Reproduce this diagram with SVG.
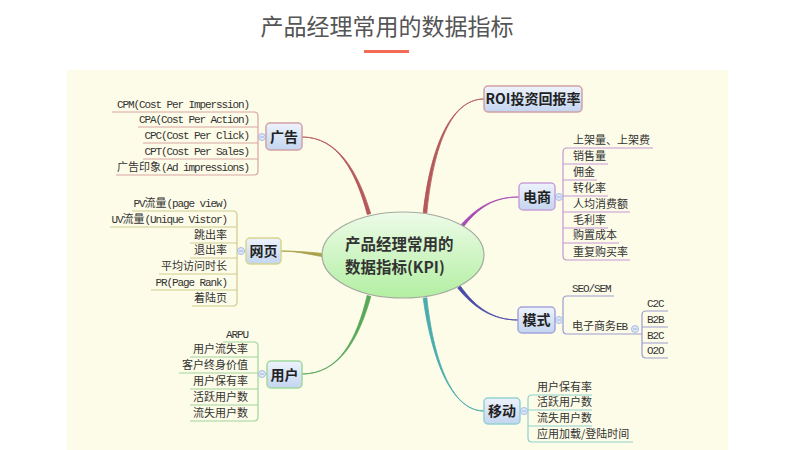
<svg xmlns="http://www.w3.org/2000/svg" width="799" height="450" viewBox="0 0 799 450">
<defs>
<linearGradient id="ng" x1="0" y1="0" x2="0" y2="1"><stop offset="0" stop-color="#eef3fc"/><stop offset="1" stop-color="#c3d5f0"/></linearGradient>
<linearGradient id="cg" x1="0" y1="0" x2="0" y2="1"><stop offset="0" stop-color="#eefbe8"/><stop offset="1" stop-color="#b2efa2"/></linearGradient>
<style>
.lf{font-family:"Noto Sans CJK SC","Liberation Sans",sans-serif;font-size:11px;fill:#333}
.m{font-family:"Liberation Mono",monospace;letter-spacing:-1.1px}
.e{text-anchor:end}
.nt{font-family:"Noto Sans CJK SC","Liberation Sans",sans-serif;font-weight:bold;font-size:14px;fill:#222;text-anchor:middle}
.ct{font-family:"Noto Sans CJK SC","Liberation Sans",sans-serif;font-weight:bold;font-size:15.5px;fill:#333}
.nb{fill:url(#ng);stroke-width:1.5}
.ln{fill:none;stroke-width:1.2}
.dot{fill:#dfe8f8;stroke:#a9bde2;stroke-width:1}
.dm{stroke:#8ea6d6;stroke-width:0.8}
</style>
</defs>
<rect x="0" y="0" width="799" height="450" fill="#ffffff"/>
<text x="387" y="35" text-anchor="middle" font-family="Noto Sans CJK SC, Liberation Sans, sans-serif" font-size="23" fill="#555">产品经理常用的数据指标</text>
<rect x="364" y="50" width="45" height="3" fill="#f26c55"/>
<rect x="67" y="70" width="661" height="380" fill="#fdfce8"/>

<g id="connectors">
<path d="M370.7,213.5 C357.8,171.5 338,137 302,137 C338,137 356.2,172.5 367.3,214.5 Z" fill="#b5585a" stroke="#b5585a" stroke-width="0.8"/>
<path d="M426.8,213.2 C432.5,155 448,99 484,99 C448,99 429.5,155 423.2,212.8 Z" fill="#b5585a" stroke="#b5585a" stroke-width="0.8"/>
<path d="M463.2,227 C478.6,207.5 494,197 519,197 C494,197 477.4,206.5 460.8,225 Z" fill="#a64cb4" stroke="#a64cb4" stroke-width="0.8"/>
<path d="M457.7,288 C474.4,308.5 493,320 518,320 C493,320 475.6,307.5 460.3,286 Z" fill="#4a4aa8" stroke="#4a4aa8" stroke-width="0.8"/>
<path d="M423.2,298.2 C431,355 450,411 484,411 C450,411 433,355 426.8,297.8 Z" fill="#4aacac" stroke="#4aacac" stroke-width="0.8"/>
<path d="M370.8,296.5 C359,338.2 340,374 302,374 C340,374 357,337.8 367.2,295.5 Z" fill="#58a858" stroke="#58a858" stroke-width="0.8"/>
<path d="M322,256.6 C308,254 295,251 281,251 C295,251 308,252 322,253.4 Z" fill="#a8a048" stroke="#a8a048" stroke-width="0.8"/>
</g>

<g id="center">
<ellipse cx="403" cy="255" rx="81" ry="43" fill="url(#cg)" stroke="#a3aa9f" stroke-width="1.2"/>
<text class="ct" x="345" y="250">产品经理常用的</text>
<text class="ct" x="345" y="273">数据指标(KPI)</text>
</g>

<g id="node-roi">
<rect class="nb" x="484" y="86" width="98" height="26" rx="4" stroke="#d2a0a6"/>
<text class="nt" x="533" y="104">ROI投资回报率</text>
</g>

<g id="node-guanggao">
<path class="ln" stroke="#d9a3a3" d="M112,112 H254 Q258,112 258,116 V171 Q258,175 254,175 H116 M138,127 H258 M143,143 H258 M143,159 H258 M258,137 H266"/>
<circle class="dot" cx="262" cy="137" r="3.5"/><path class="dm" d="M260,137 H264"/>
<rect class="nb" x="266" y="123" width="36" height="27" rx="4" stroke="#d2a0a6"/>
<text class="nt" x="284" y="141.5">广告</text>
<text class="lf e" x="249" y="108"><tspan class="m">CPM(Cost Per Imperssion)</tspan></text>
<text class="lf e" x="249" y="123"><tspan class="m">CPA(Cost Per Action)</tspan></text>
<text class="lf e" x="249" y="139"><tspan class="m">CPC(Cost Per Click)</tspan></text>
<text class="lf e" x="249" y="155"><tspan class="m">CPT(Cost Per Sales)</tspan></text>
<text class="lf e" x="249" y="171">广告印象<tspan class="m">(Ad impressions)</tspan></text>
</g>

<g id="node-wangye">
<path class="ln" stroke="#cfcc8c" d="M132,211 H233 Q237,211 237,215 V302 Q237,306 233,306 H192 M110,227 H237 M190,243 H237 M190,258 H237 M159,274 H237 M151,290 H237 M237,251 H246"/>
<circle class="dot" cx="241" cy="251" r="3.5"/><path class="dm" d="M239,251 H243"/>
<rect class="nb" x="246" y="238" width="35" height="26" rx="4" stroke="#d6d58e"/>
<text class="nt" x="263.5" y="256">网页</text>
<text class="lf e" x="227" y="207"><tspan class="m">PV</tspan>流量<tspan class="m">(page view)</tspan></text>
<text class="lf e" x="227" y="223"><tspan class="m">UV</tspan>流量<tspan class="m">(Unique Vistor)</tspan></text>
<text class="lf e" x="227" y="239">跳出率</text>
<text class="lf e" x="227" y="254">退出率</text>
<text class="lf e" x="227" y="270">平均访问时长</text>
<text class="lf e" x="227" y="286"><tspan class="m">PR(Page Rank)</tspan></text>
<text class="lf e" x="227" y="302">着陆页</text>
</g>

<g id="node-yonghu">
<path class="ln" stroke="#9fd49a" d="M223,342 H254 Q258,342 258,346 V417 Q258,421 254,421 H190 M190,357 H258 M179,373 H258 M190,389 H258 M190,405 H258 M258,374 H267"/>
<circle class="dot" cx="262" cy="374" r="3.5"/><path class="dm" d="M260,374 H264"/>
<rect class="nb" x="267" y="361" width="35" height="27" rx="4" stroke="#9fd79f"/>
<text class="nt" x="284.5" y="379.5">用户</text>
<text class="lf e" x="248" y="338"><tspan class="m">ARPU</tspan></text>
<text class="lf e" x="248" y="353">用户流失率</text>
<text class="lf e" x="248" y="369">客户终身价值</text>
<text class="lf e" x="248" y="385">用户保有率</text>
<text class="lf e" x="248" y="401">活跃用户数</text>
<text class="lf e" x="248" y="417">流失用户数</text>
</g>

<g id="node-dianshang">
<path class="ln" stroke="#c995d6" d="M653,148 H567 Q563,148 563,152 V256 Q563,260 567,260 H630 M563,164 H608 M563,180 H597 M563,196 H608 M563,212 H630 M563,228 H608 M563,243 H619 M555,197 H563"/>
<circle class="dot" cx="559" cy="197" r="3.5"/><path class="dm" d="M557,197 H561"/>
<rect class="nb" x="519" y="183" width="36" height="27" rx="4" stroke="#c9a0d9"/>
<text class="nt" x="537" y="201.5">电商</text>
<text class="lf" x="573" y="144">上架量、上架费</text>
<text class="lf" x="573" y="160">销售量</text>
<text class="lf" x="573" y="176">佣金</text>
<text class="lf" x="573" y="192">转化率</text>
<text class="lf" x="573" y="208">人均消费额</text>
<text class="lf" x="573" y="224">毛利率</text>
<text class="lf" x="573" y="239">购置成本</text>
<text class="lf" x="573" y="256">重复购买率</text>
</g>

<g id="node-moshi">
<path class="ln" stroke="#9b9bd0" d="M614,296 H567 Q563,296 563,300 V330 Q563,334 567,334 H642 M555,320 H563"/>
<path class="ln" stroke="#9b9bd0" d="M668,311 H646 Q642,311 642,315 V354 Q642,358 646,358 H668 M642,327 H668 M642,343 H668"/>
<circle class="dot" cx="559" cy="320" r="3.5"/><path class="dm" d="M557,320 H561"/>
<circle class="dot" cx="635" cy="329" r="3.5"/><path class="dm" d="M633,329 H637"/>
<rect class="nb" x="518" y="307" width="37" height="26" rx="4" stroke="#a4a4dc"/>
<text class="nt" x="536.5" y="325">模式</text>
<text class="lf" x="572" y="292"><tspan class="m">SEO/SEM</tspan></text>
<text class="lf" x="572" y="330">电子商务<tspan class="m">EB</tspan></text>
<text class="lf" x="647" y="307"><tspan class="m">C2C</tspan></text>
<text class="lf" x="647" y="323"><tspan class="m">B2B</tspan></text>
<text class="lf" x="647" y="339"><tspan class="m">B2C</tspan></text>
<text class="lf" x="647" y="354"><tspan class="m">O2O</tspan></text>
</g>

<g id="node-yidong">
<path class="ln" stroke="#8fd0cc" d="M592,395 H532 Q528,395 528,399 V438 Q528,442 532,442 H633 M528,410 H592 M528,426 H592 M520,411 H528"/>
<circle class="dot" cx="524" cy="411" r="3.5"/><path class="dm" d="M522,411 H526"/>
<rect class="nb" x="484" y="398" width="36" height="26" rx="4" stroke="#92d2d2"/>
<text class="nt" x="502" y="416">移动</text>
<text class="lf" x="537" y="391">用户保有率</text>
<text class="lf" x="537" y="406">活跃用户数</text>
<text class="lf" x="537" y="422">流失用户数</text>
<text class="lf" x="537" y="438">应用加载/登陆时间</text>
</g>
</svg>
